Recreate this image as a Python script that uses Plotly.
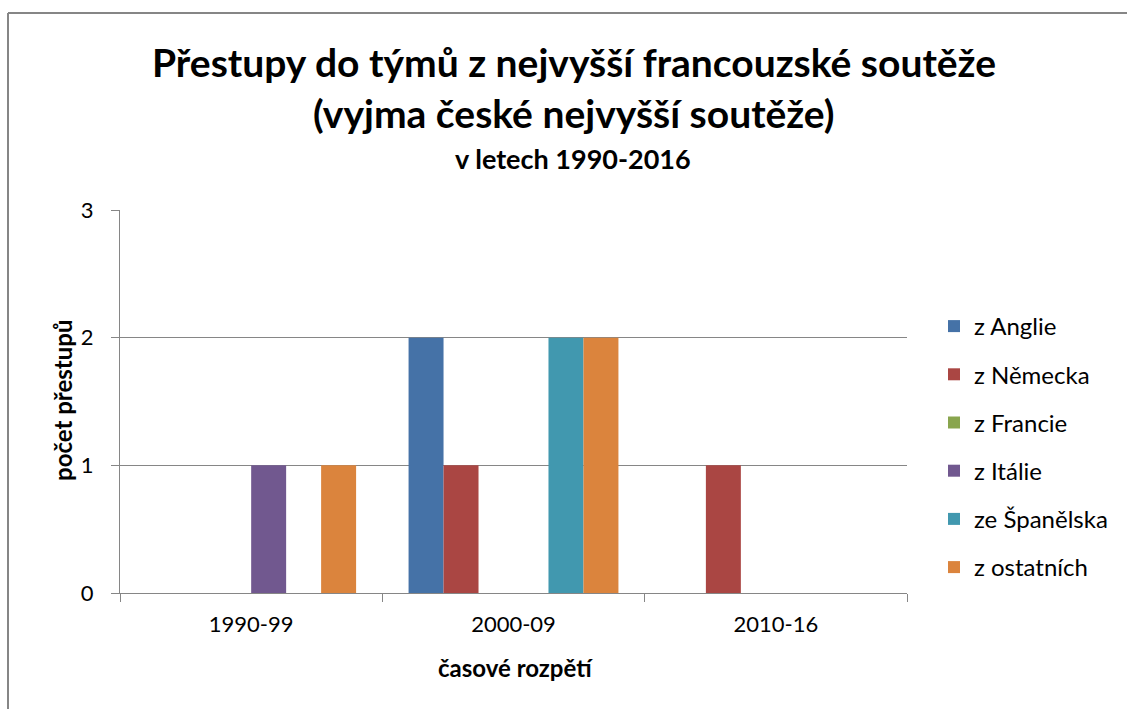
import plotly.graph_objects as go

periods = ["1990-99", "2000-09", "2010-16"]
series = ["z Anglie", "z Německa", "z Francie", "z Itálie", "ze Španělska", "z ostatních"]
colors = ["#4572A7", "#AA4643", "#89A54E", "#71588F", "#4198AF", "#DB843D"]
values = [
    [0, 2, 0],
    [0, 1, 1],
    [0, 0, 0],
    [1, 0, 0],
    [0, 2, 0],
    [1, 2, 0],
]

W, H = 1127, 709
L, R, T, B = 120, 220, 210, 116
FONT = "Lato"

fig = go.Figure()
for name, col, vals in zip(series, colors, values):
    fig.add_trace(go.Bar(x=periods, y=vals, name=name, marker_color=col,
                         marker_line_width=0, legendgroup=name))

pw, ph = W - L - R, H - T - B
px2x = lambda p: (p - L) / pw
px2y = lambda p: (H - B - p) / ph


def label(text, x, y, size, angle=0):
    return dict(text=text, x=px2x(x), y=px2y(y), xref="paper", yref="paper",
                xanchor="center", yanchor="middle", showarrow=False,
                textangle=angle, font=dict(size=size))


gray = "#868686"
fig.update_layout(
    width=W, height=H, margin=dict(l=L, r=R, t=T, b=B),
    paper_bgcolor="white", plot_bgcolor="white",
    barmode="group", bargap=0.2, bargroupgap=0,
    font=dict(family=FONT, color="black"),
    showlegend=True,
    legend=dict(x=px2x(934), y=px2y(304), xanchor="left", yanchor="top",
                font=dict(size=24), tracegroupgap=14, itemwidth=30),
    xaxis=dict(type="category", showline=True, linecolor=gray, ticks="outside",
               tickson="boundaries", ticklen=8, tickcolor=gray, tickfont=dict(size=22),
               showgrid=False, ticklabelstandoff=12),
    yaxis=dict(range=[0, 3], dtick=1, showline=True, linecolor=gray, gridcolor=gray,
               ticks="outside", ticklen=8, tickcolor=gray, tickfont=dict(size=22),
               zeroline=False, ticklabelstandoff=13),
    annotations=[
        label("<b>Přestupy do týmů z nejvyšší francouzské soutěže</b>", 574, 62, 39),
        label("<b>(vyjma české nejvyšší soutěže)</b>", 574, 113, 39),
        label("<b>v letech 1990-2016</b>", 573, 159, 27),
        label("<b>počet přestupů</b>", 62, 401, 24, angle=-90),
        label("<b>časové rozpětí</b>", 515, 667, 24),
    ],
    shapes=[
        dict(type="line", xref="paper", yref="paper", x0=px2x(8), x1=px2x(8),
             y0=px2y(13), y1=px2y(H + 5), line=dict(color=gray, width=2)),
        dict(type="line", xref="paper", yref="paper", x0=px2x(8), x1=px2x(W + 5),
             y0=px2y(13), y1=px2y(13), line=dict(color=gray, width=2)),
    ],
)

fig.write_html("out.html", config={"displayModeBar": False},
               post_script="document.body.style.margin='0px';")
